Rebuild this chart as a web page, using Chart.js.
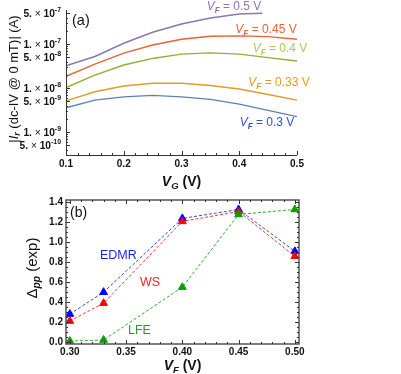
<!DOCTYPE html>
<html>
<head>
<meta charset="utf-8">
<script src="https://cdn.jsdelivr.net/npm/chart.js@4"></script>
<style>
html, body { margin: 0; padding: 0; background: #fff; }
#wrap { position: relative; width: 401px; height: 374px; }
canvas { position: absolute; left: 0; }
</style>
</head>
<body>
<div id="wrap">
  <canvas id="chartA" width="401" height="190" style="top:0"></canvas>
  <canvas id="chartB" width="401" height="184" style="top:190px"></canvas>
</div>
<script>
// panel (a): |Ir| vs VG for several VF
const vg = [0.1, 0.15, 0.2, 0.25, 0.3, 0.35, 0.4, 0.45, 0.5];
const vg05 = [0.1, 0.15, 0.2, 0.25, 0.3, 0.35, 0.4, 0.44];
const ir05 = [3.2e-8, 5.2e-8, 1.04e-7, 1.85e-7, 2.85e-7, 3.9e-7, 4.8e-7, 5.0e-7];
const ir045 = [1.85e-8, 3.5e-8, 6.2e-8, 9.5e-8, 1.28e-7, 1.5e-7, 1.53e-7, 1.47e-7, 1.28e-7];
const ir04 = [1.02e-8, 1.97e-8, 3.33e-8, 4.7e-8, 5.9e-8, 6.3e-8, 5.9e-8, 4.9e-8, 4.1e-8];
const ir033 = [5.1e-9, 8.2e-9, 1.11e-8, 1.28e-8, 1.28e-8, 1.14e-8, 9.5e-9, 7.1e-9, 5.3e-9];
const ir03 = [3.56e-9, 5.3e-9, 6.3e-9, 6.8e-9, 6.3e-9, 5.5e-9, 4.3e-9, 3.1e-9, 2.23e-9];
const curveNames = ['0.5', '0.45', '0.4', '0.33', '0.3'];
const xTicksA = [0.1, 0.2, 0.3, 0.4, 0.5];
const yTicksA = [5e-10, 1e-9, 5e-9, 1e-8, 5e-8, 1e-7, 5e-7];
const yMantA = ['5.', '1.', '5.', '1.', '5.', '1.', '5.'];
const yExpA = ['-10', '-9', '-9', '-8', '-8', '-7', '-7'];

// panel (b): Δpp vs VF
const vf = [0.30, 0.33, 0.40, 0.45, 0.50];
const edmr = [0.28, 0.50, 1.24, 1.33, 0.91];
const ws = [0.21, 0.39, 1.21, 1.31, 0.86];
const lfe = [0.01, 0.02, 0.55, 1.28, 1.33];
const xTicksB = ['0.30', '0.35', '0.40', '0.45', '0.50'];
const yTicksB = ['0.0', '0.2', '0.4', '0.6', '0.8', '1.0', '1.2', '1.4'];

const FONT = '"Liberation Sans", Arial, sans-serif';

// rich text: parts = [[text, flags]] flags may contain b, i, sub, sup
function partFont(f, size) {
  let s = size;
  if (f.includes('sub') || f.includes('sup')) s = size * 0.68;
  return (f.includes('i') ? 'italic ' : '') + (f.includes('b') ? 'bold ' : '') + s + 'px ' + FONT;
}
function richWidth(ctx, parts, size) {
  let w = 0;
  parts.forEach(p => { ctx.font = partFont(p[1], size); w += ctx.measureText(p[0]).width; });
  return w;
}
function drawRich(ctx, parts, x, y, align, size, color) {
  const w = richWidth(ctx, parts, size);
  let cx = align === 'center' ? x - w / 2 : align === 'right' ? x - w : x;
  ctx.fillStyle = color;
  ctx.textBaseline = 'middle';
  ctx.textAlign = 'left';
  parts.forEach(p => {
    ctx.font = partFont(p[1], size);
    let dy = 0;
    if (p[1].includes('sub')) dy = size * 0.28;
    if (p[1].includes('sup')) dy = -size * 0.38;
    ctx.fillText(p[0], cx, y + dy);
    cx += ctx.measureText(p[0]).width;
  });
}
function drawRotated(ctx, parts, x, y, size, color) {
  ctx.save();
  ctx.translate(x, y);
  ctx.rotate(-Math.PI / 2);
  drawRich(ctx, parts, 0, 0, 'center', size, color);
  ctx.restore();
}
function vfLabel(v) {
  return [['V', 'i'], ['F', 'i sub'], [' = ' + v + ' V', '']];
}

const curveColors = ['#8778B3', '#EB6235', '#8FB032', '#E19C24', '#5E81B5'];
const labelColors = ['#8778B3', '#EB6235', '#9FCF5C', '#E19C24', '#2B52E0'];
const labelPos = [[234, 7], [266, 30], [280, 49], [279, 83], [267, 123]];

const decorA = {
  id: 'decorA',
  afterDraw(chart) {
    const ctx = chart.ctx, a = chart.chartArea;
    const xs = chart.scales.x, ys = chart.scales.y;
    ctx.save();
    ctx.strokeStyle = '#333';
    ctx.lineWidth = 1;
    ctx.beginPath();
    ctx.moveTo(a.left + 0.5, a.top);
    ctx.lineTo(a.left + 0.5, a.bottom + 0.5);
    ctx.lineTo(a.right, a.bottom + 0.5);
    ctx.stroke();
    // x ticks, minor every 0.02
    ctx.beginPath();
    for (let i = 5; i <= 25; i++) {
      const px = Math.round(xs.getPixelForValue(i / 50)) + 0.5;
      const len = i % 5 === 0 ? 4 : 2;
      ctx.moveTo(px, a.bottom);
      ctx.lineTo(px, a.bottom - len);
    }
    // y ticks, log minors
    for (let d = -10; d <= -7; d++) {
      for (let m = 1; m <= 9; m++) {
        const v = m * Math.pow(10, d);
        if (v < ys.min || v > ys.max) continue;
        const py = Math.round(ys.getPixelForValue(v)) + 0.5;
        const len = (m === 1 || m === 5) ? 4 : 2;
        ctx.moveTo(a.left, py);
        ctx.lineTo(a.left + len, py);
      }
    }
    ctx.stroke();
    // tick labels
    xTicksA.forEach(v => {
      drawRich(ctx, [[String(v), 'b']], xs.getPixelForValue(v), a.bottom + 9, 'center', 10, '#111');
    });
    yTicksA.forEach((v, i) => {
      const py = ys.getPixelForValue(v);
      const parts = [[yMantA[i], 'b'], [' \u00d7 ', ''], ['10', 'b'], [yExpA[i], 'b sup']];
      drawRich(ctx, parts, a.left - 5, py + 1, 'right', 10.2, '#111');
    });
    // titles
    drawRich(ctx, [['V', 'b i'], ['G', 'b i sub'], [' (V)', 'b']], (a.left + a.right) / 2, 182, 'center', 14, '#111');
    drawRotated(ctx, [['|', ''], ['I', 'i'], ['r', 'i sub'], [' (dc-IV @ 0 mT)| (A)', '']], 14, 79, 13, '#111');
    drawRich(ctx, [['(a)', '']], 72, 21, 'left', 14.5, '#111');
    curveNames.forEach((n, i) => {
      drawRich(ctx, vfLabel(n), labelPos[i][0], labelPos[i][1], 'center', 12, labelColors[i]);
    });
    ctx.restore();
  }
};

const toPts = (xv, yv) => xv.map((x, i) => ({ x: x, y: yv[i] }));
const seriesA = [toPts(vg05, ir05), toPts(vg, ir045), toPts(vg, ir04), toPts(vg, ir033), toPts(vg, ir03)];

new Chart(document.getElementById('chartA'), {
  type: 'line',
  data: {
    datasets: seriesA.map((d, i) => ({
      label: 'VF = ' + curveNames[i] + ' V',
      data: d,
      borderColor: curveColors[i],
      borderWidth: 1.4,
      pointRadius: 0,
      tension: 0
    }))
  },
  options: {
    responsive: false,
    animation: false,
    layout: { padding: { left: 0, right: 104, top: 10, bottom: 0 } },
    plugins: { legend: { display: false }, tooltip: { enabled: false } },
    scales: {
      x: {
        type: 'linear', min: 0.1, max: 0.5,
        grid: { display: false }, border: { display: false }, ticks: { display: false },
        afterFit: s => { s.height = 35; }
      },
      y: {
        type: 'logarithmic', min: 3e-10, max: 5.93e-7,
        grid: { display: false }, border: { display: false }, ticks: { display: false },
        afterFit: s => { s.width = 66; }
      }
    }
  },
  plugins: [decorA]
});

const decorB = {
  id: 'decorB',
  afterDraw(chart) {
    const ctx = chart.ctx, a = chart.chartArea;
    const xs = chart.scales.x, ys = chart.scales.y;
    ctx.save();
    ctx.strokeStyle = '#555';
    ctx.lineWidth = 1.5;
    ctx.strokeRect(a.left, a.top, a.right - a.left, a.bottom - a.top);
    ctx.lineWidth = 1;
    ctx.strokeStyle = '#333';
    ctx.beginPath();
    for (let i = 30; i <= 50; i++) {
      const px = Math.round(xs.getPixelForValue(i / 100)) + 0.5;
      const len = i % 5 === 0 ? 4 : 2;
      ctx.moveTo(px, a.bottom); ctx.lineTo(px, a.bottom - len);
      ctx.moveTo(px, a.top); ctx.lineTo(px, a.top + len);
    }
    for (let i = 0; i <= 28; i++) {
      const py = Math.round(ys.getPixelForValue(i / 20)) + 0.5;
      const len = i % 4 === 0 ? 4 : 2;
      ctx.moveTo(a.left, py); ctx.lineTo(a.left + len, py);
      ctx.moveTo(a.right, py); ctx.lineTo(a.right - len, py);
    }
    ctx.stroke();
    xTicksB.forEach(t => {
      drawRich(ctx, [[t, 'b']], xs.getPixelForValue(parseFloat(t)), a.bottom + 8, 'center', 10, '#111');
    });
    yTicksB.forEach(t => {
      drawRich(ctx, [[t, 'b']], a.left - 3, ys.getPixelForValue(parseFloat(t)), 'right', 10, '#111');
    });
    drawRich(ctx, [['V', 'b i'], ['F', 'b i sub'], [' (V)', 'b']], (a.left + a.right) / 2, 176, 'center', 14, '#111');
    drawRotated(ctx, [['\u0394', ''], ['pp', 'i sub'], [' (exp)', '']], 33, 78, 15, '#111');
    drawRich(ctx, [['(b)', '']], 70, 23, 'left', 14, '#111');
    drawRich(ctx, [['EDMR', '']], 100, 66, 'left', 12.5, '#1a1aff');
    drawRich(ctx, [['WS', '']], 140, 93, 'left', 12.5, '#ff2020');
    drawRich(ctx, [['LFE', '']], 128, 141, 'left', 12.5, '#22a022');
    ctx.restore();
  }
};

const seriesB = [
  { label: 'EDMR', data: edmr, color: '#0000ff', line: '#3344ff', order: 3 },
  { label: 'WS', data: ws, color: '#ff0000', line: '#ff3333', order: 2 },
  { label: 'LFE', data: lfe, color: '#00a000', line: '#33aa33', order: 1 }
];

new Chart(document.getElementById('chartB'), {
  type: 'line',
  data: {
    datasets: seriesB.map(s => ({
      label: s.label,
      data: toPts(vf, s.data),
      order: s.order,
      borderColor: s.line,
      borderWidth: 1,
      borderDash: [3, 2],
      pointStyle: 'triangle',
      pointRadius: 4.5,
      pointBackgroundColor: s.color,
      pointBorderColor: s.color,
      pointBorderWidth: 1,
      clip: false,
      tension: 0
    }))
  },
  options: {
    responsive: false,
    animation: false,
    layout: { padding: { left: 0, right: 102, top: 10, bottom: 0 } },
    plugins: { legend: { display: false }, tooltip: { enabled: false } },
    scales: {
      x: {
        type: 'linear', min: 0.2966, max: 0.5037,
        grid: { display: false }, border: { display: false }, ticks: { display: false },
        afterFit: s => { s.height = 30; }
      },
      y: {
        type: 'linear', min: -0.02, max: 1.425,
        grid: { display: false }, border: { display: false }, ticks: { display: false },
        afterFit: s => { s.width = 66; }
      }
    }
  },
  plugins: [decorB]
});
</script>
</body>
</html>
